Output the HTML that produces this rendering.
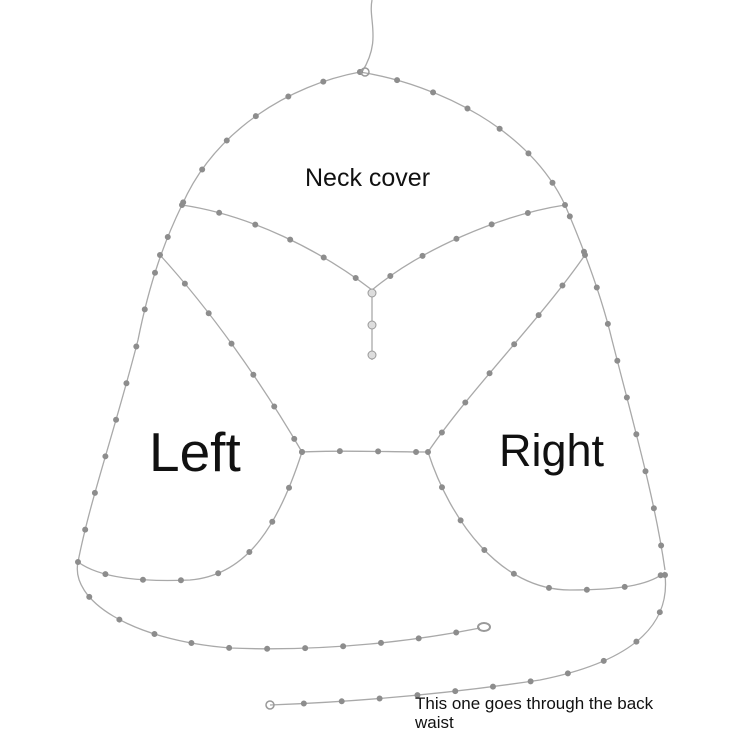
<!DOCTYPE html>
<html><head><meta charset="utf-8"><style>
html,body{margin:0;padding:0;background:#fff;}
svg{display:block}
.c{fill:none;stroke:#a9a9a9;stroke-width:1.3}
.b{fill:none;stroke:#8d8d8d;stroke-width:6;stroke-linecap:round;stroke-dasharray:0 38}
text{font-family:"Liberation Sans","DejaVu Sans",sans-serif;fill:#111}
</style></head><body>
<svg width="750" height="750" viewBox="0 0 750 750">
<defs>
<path id="p1" d="M360 72 C290 85 215 130 182 205 C165 240 150 280 138 340 C115 430 90 500 78 562"/>
<path id="p2" d="M360 72 C440 85 530 130 565 205 C580 240 600 290 612 340 C635 430 655 500 665 570"/>
<path id="p3" d="M182 205 C250 215 320 250 372 290"/>
<path id="p4" d="M565 205 C500 215 420 250 372 290"/>
<path id="p5" d="M160 255 C210 310 260 380 302 452"/>
<path id="p6" d="M585 255 C540 320 470 390 428 452"/>
<path id="p7" d="M302 452 C340 450 390 452 428 452"/>
<path id="p8" d="M302 452 C280 520 250 575 190 580 C140 582 100 578 78 562"/>
<path id="p9" d="M428 452 C450 520 500 590 570 590 C620 590 650 585 665 572"/>
<path id="p10" d="M78 562 C70 600 130 640 230 648 C330 652 420 640 480 628"/>
<path id="p11" d="M665 575 C670 620 640 660 540 680 C440 695 350 702 270 705"/>
</defs>
<path class="c" d="M372 0 C368 20 382 40 362 72"/>
<path class="c" d="M372 290 L372 360"/>
<use href="#p1" class="c"/><use href="#p1" class="b"/>
<use href="#p2" class="c"/><use href="#p2" class="b"/>
<use href="#p3" class="c"/><use href="#p3" class="b"/>
<use href="#p4" class="c"/><use href="#p4" class="b"/>
<use href="#p5" class="c"/><use href="#p5" class="b"/>
<use href="#p6" class="c"/><use href="#p6" class="b"/>
<use href="#p7" class="c"/><use href="#p7" class="b"/>
<use href="#p8" class="c"/><use href="#p8" class="b"/>
<use href="#p9" class="c"/><use href="#p9" class="b"/>
<use href="#p10" class="c"/><use href="#p10" class="b"/>
<use href="#p11" class="c"/><use href="#p11" class="b"/>
<circle cx="372" cy="293" r="4" fill="#ddd" stroke="#999"/>
<circle cx="372" cy="325" r="4" fill="#ddd" stroke="#999"/>
<circle cx="372" cy="355" r="4" fill="#ddd" stroke="#999"/>
<ellipse cx="484" cy="627" rx="6" ry="4" fill="none" stroke="#999" stroke-width="2"/>
<circle cx="270" cy="705" r="4" fill="none" stroke="#999" stroke-width="1.5"/>
<circle cx="365" cy="72" r="4" fill="none" stroke="#999" stroke-width="1.5"/>
<text x="305" y="186" font-size="25">Neck cover</text>
<text x="149" y="471" font-size="55">Left</text>
<text x="499" y="466" font-size="45">Right</text>
<text x="415" y="709" font-size="17">This one goes through the back</text>
<text x="415" y="728" font-size="17">waist</text>
</svg>
</body></html>
